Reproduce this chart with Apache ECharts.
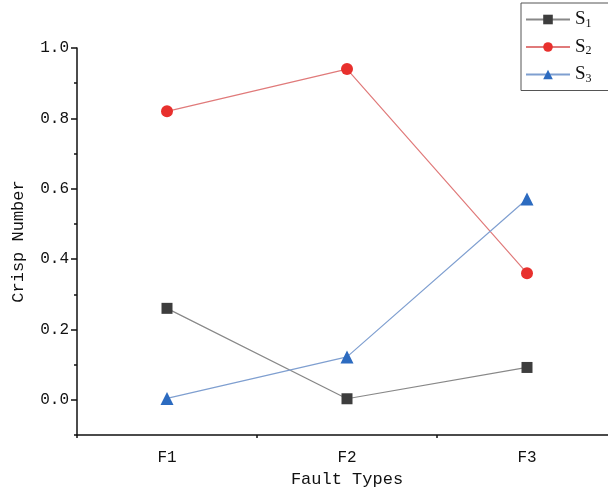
<!DOCTYPE html>
<html><head><meta charset="utf-8">
<script src="https://cdn.jsdelivr.net/npm/echarts@6/dist/echarts.min.js"></script>
<style>html,body{margin:0;padding:0;background:#fff}#c{width:608px;height:496px}</style>
</head><body><div id="c"></div>
<script>
const categories = ['F1', 'F2', 'F3'];
const s1 = [0.26, 0.003, 0.092];
const s2 = [0.82, 0.94, 0.36];
const s3 = [0.004, 0.122, 0.571];
const seriesNames = ['S1', 'S2', 'S3'];
const majorTicks = [0, 0.2, 0.4, 0.6, 0.8, 1.0];
const minorTicks = [-0.1, 0.1, 0.3, 0.5, 0.7, 0.9];

const mono = 'Liberation Mono';
const chart = echarts.init(document.getElementById('c'));
chart.setOption({
  animation: false,
  backgroundColor: '#fff',
  grid: { left: 77, width: 540, top: 48, bottom: 61, outerBoundsMode: 'none', containLabel: false },
  legend: {
    orient: 'vertical', left: 521, top: 3,
    data: seriesNames,
    itemWidth: 44, itemHeight: 12, itemGap: 8,
    padding: [7, 30, 6, 4],
    borderColor: '#555', borderWidth: 1,
    formatter: n => '{s|S}{sub|' + n.slice(1) + '}',
    textStyle: {
      rich: {
        s: { fontFamily: 'Liberation Serif', fontSize: 19, color: '#111' },
        sub: { fontFamily: 'Liberation Serif', fontSize: 12, color: '#111', padding: [8, 0, 0, 0] }
      }
    }
  },
  xAxis: [{
    type: 'category', data: categories,
    name: 'Fault Types', nameLocation: 'middle', nameGap: 36,
    nameTextStyle: { fontFamily: mono, fontSize: 17, color: '#111' },
    axisLine: { onZero: false, lineStyle: { color: '#111', width: 1.5 } },
    axisTick: { alignWithLabel: true, length: 6, lineStyle: { color: '#111', width: 1.5 } },
    axisLabel: { fontFamily: mono, fontSize: 16, color: '#111', margin: 15 },
    splitLine: { show: false }
  }, {
    type: 'category', data: categories, position: 'bottom',
    axisLine: { show: true, onZero: false, lineStyle: { color: '#111', opacity: 0 } },
    axisTick: { show: true, length: 3, lineStyle: { color: '#111', width: 1.5 } },
    axisLabel: { show: false }
  }],
  yAxis: [{
    type: 'value', min: -0.1, max: 1.0, interval: 0.1,
    name: 'Crisp Number', nameLocation: 'middle', nameGap: 50,
    nameTextStyle: { fontFamily: mono, fontSize: 17, color: '#111' },
    axisLine: { show: true, onZero: false, lineStyle: { color: '#111', width: 1.5 } },
    axisTick: { show: true, length: 6, customValues: majorTicks, lineStyle: { color: '#111', width: 1.5 } },
    axisLabel: { customValues: majorTicks, fontFamily: mono, fontSize: 16, color: '#111', margin: 8,
      formatter: v => v.toFixed(1) },
    splitLine: { show: false }
  }, {
    type: 'value', min: -0.1, max: 1.0, interval: 0.1, position: 'left',
    axisLine: { show: false, onZero: false },
    axisTick: { show: true, length: 3, customValues: minorTicks, lineStyle: { color: '#111', width: 1.5 } },
    axisLabel: { show: false },
    splitLine: { show: false }
  }],
  series: [{
    name: 'S1', type: 'line', data: s1,
    symbol: 'rect', symbolSize: 11,
    itemStyle: { color: '#3d3d3d' },
    lineStyle: { color: '#888', width: 1.2 }
  }, {
    name: 'S2', type: 'line', data: s2,
    symbol: 'circle', symbolSize: 12,
    itemStyle: { color: '#e8302d' },
    lineStyle: { color: '#e07a7a', width: 1.2 }
  }, {
    name: 'S3', type: 'line', data: s3,
    symbol: 'triangle', symbolSize: 13,
    itemStyle: { color: '#2c6bc0' },
    lineStyle: { color: '#7f9fd0', width: 1.2 }
  }]
});
</script></body></html>
